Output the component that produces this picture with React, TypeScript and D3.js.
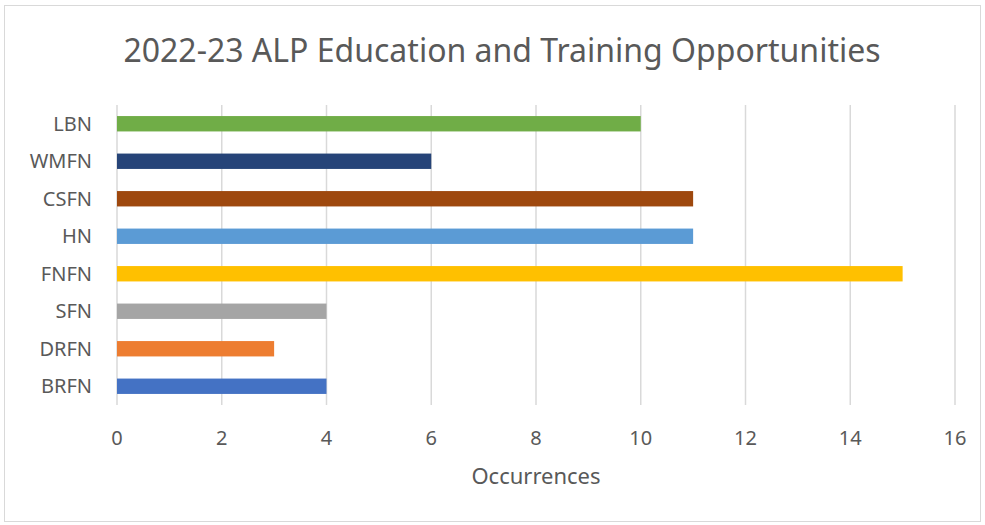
import React, { useEffect, useRef } from 'react';
import * as d3 from 'd3';

const categories = ['LBN', 'WMFN', 'CSFN', 'HN', 'FNFN', 'SFN', 'DRFN', 'BRFN'];
const values = [10, 6, 11, 11, 15, 4, 3, 4];
const colors = ['#70ad47', '#264478', '#9e480e', '#5b9bd5', '#ffc000', '#a5a5a5', '#ed7d31', '#4472c4'];
const xTicks = [0, 2, 4, 6, 8, 10, 12, 14, 16];

const App = () => {
  const svgRef = useRef<SVGSVGElement>(null);

  useEffect(() => {
    const width = 985;
    const height = 525;
    const plot = { left: 117, right: 955, top: 105, bottom: 405 };
    const font = "'Noto Sans', 'Open Sans', sans-serif";
    const textColor = '#595959';

    const svg = d3.select(svgRef.current);
    svg.selectAll('*').remove();
    svg.attr('width', width).attr('height', height);

    // chart frame
    svg.append('rect')
      .attr('x', 4.5).attr('y', 5.5)
      .attr('width', 976).attr('height', 516)
      .attr('fill', '#fff')
      .attr('stroke', '#d9d9d9')
      .attr('stroke-width', 1);

    const x = d3.scaleLinear().domain([0, 16]).range([plot.left, plot.right]);
    const y = d3.scaleBand<string>()
      .domain(categories)
      .range([plot.top, plot.bottom])
      .paddingInner(0.59)
      .paddingOuter(0.295);

    // gridlines
    svg.append('g')
      .selectAll('line')
      .data(xTicks)
      .enter()
      .append('line')
      .attr('x1', d => x(d)).attr('x2', d => x(d))
      .attr('y1', plot.top).attr('y2', plot.bottom)
      .attr('stroke', '#d9d9d9')
      .attr('stroke-width', 1.5);

    // bars
    svg.append('g')
      .selectAll('rect')
      .data(categories)
      .enter()
      .append('rect')
      .attr('x', x(0))
      .attr('y', d => y(d)!)
      .attr('width', (d, i) => x(values[i]) - x(0))
      .attr('height', y.bandwidth())
      .attr('fill', (d, i) => colors[i]);

    // x tick labels
    svg.append('g')
      .selectAll('text')
      .data(xTicks)
      .enter()
      .append('text')
      .attr('x', d => x(d))
      .attr('y', 445)
      .attr('text-anchor', 'middle')
      .attr('font-family', font)
      .attr('font-size', 20)
      .attr('fill', textColor)
      .text(d => d);

    // category labels
    svg.append('g')
      .selectAll('text')
      .data(categories)
      .enter()
      .append('text')
      .attr('x', 92)
      .attr('y', d => y(d)! + y.bandwidth() / 2)
      .attr('dy', '0.36em')
      .attr('text-anchor', 'end')
      .attr('font-family', font)
      .attr('font-size', 20)
      .attr('fill', textColor)
      .text(d => d);

    // axis title
    svg.append('text')
      .attr('x', 536)
      .attr('y', 484)
      .attr('text-anchor', 'middle')
      .attr('font-family', font)
      .attr('font-size', 22)
      .attr('fill', textColor)
      .text('Occurrences');

    // chart title
    svg.append('text')
      .attr('x', 502)
      .attr('y', 62)
      .attr('text-anchor', 'middle')
      .attr('font-family', font)
      .attr('font-size', 32)
      .attr('fill', textColor)
      .text('2022-23 ALP Education and Training Opportunities');
  }, []);

  return (
    <div style={{ position: 'absolute', left: 0, top: 0 }}>
      <svg ref={svgRef} style={{ display: 'block' }}></svg>
    </div>
  );
};

export default App;
